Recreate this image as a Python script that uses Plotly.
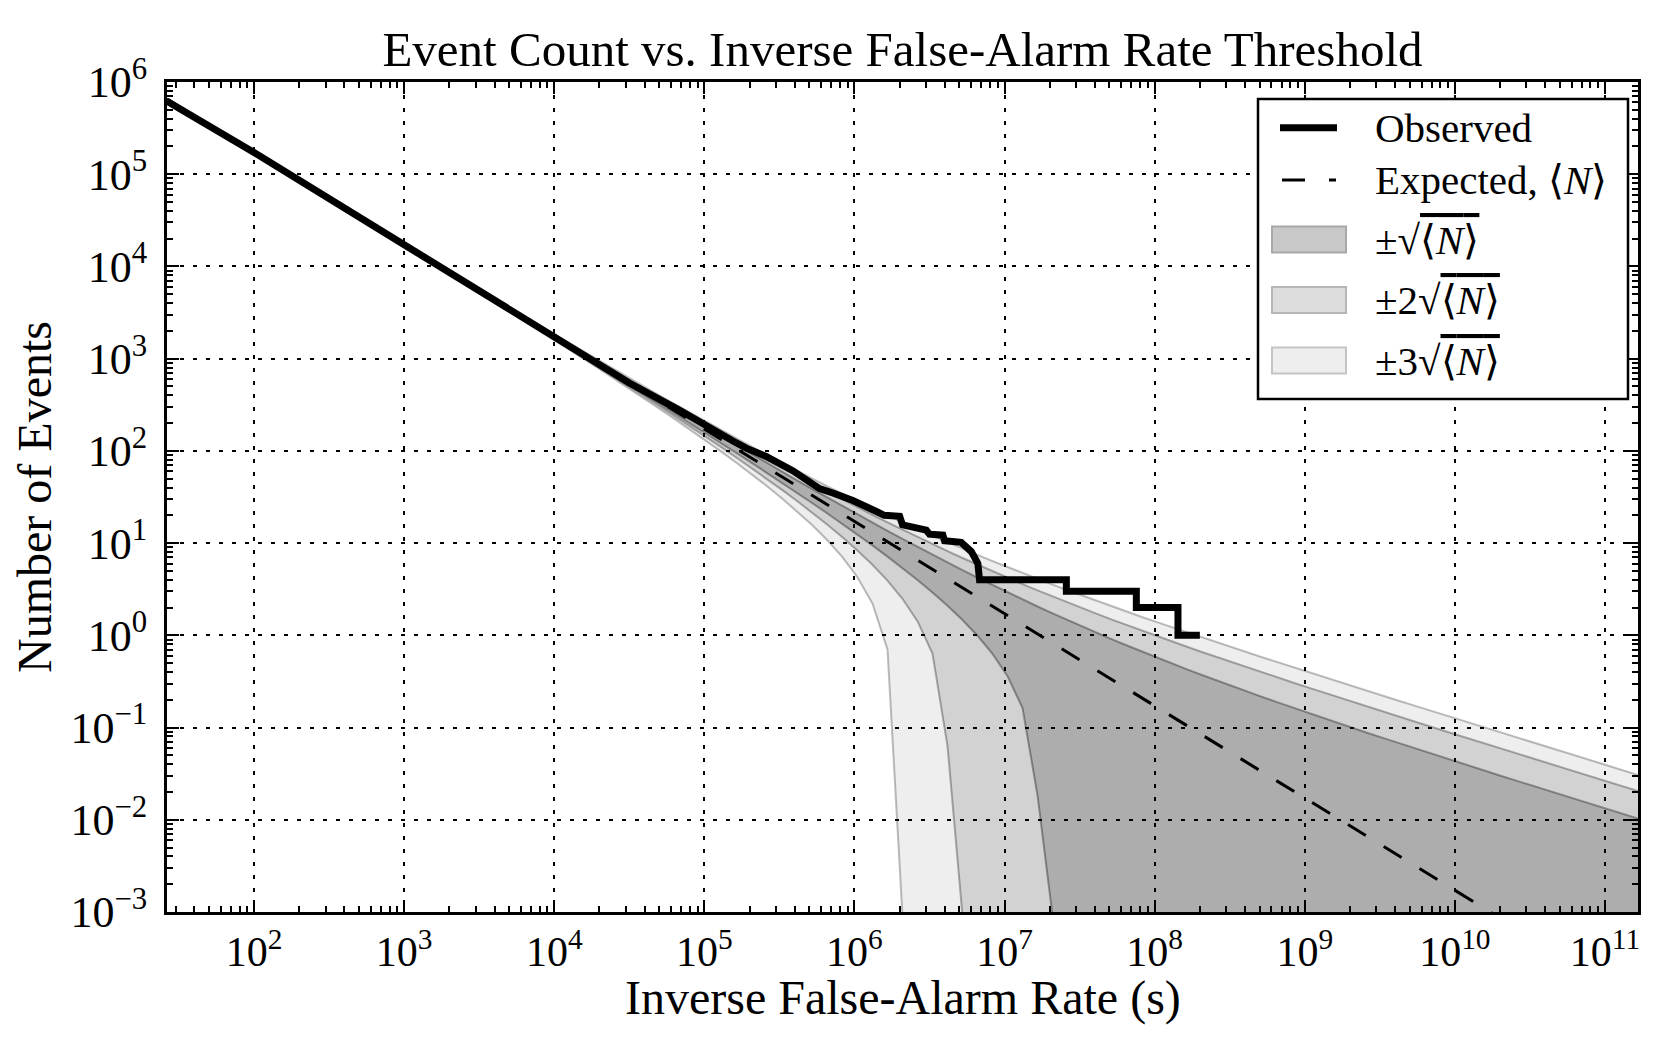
import numpy as np
import plotly.graph_objects as go

FONT = "Liberation Serif"

# ---------------- data ----------------
# sampling grid of the inverse false-alarm rate threshold (s), 0.1-decade steps
ifar_grid = [
    26.3, 33.1, 41.7, 52.5, 66.1, 83.2,
    104.7, 131.8, 166.0, 208.9, 263.0, 331.1, 416.9, 524.8, 660.7, 831.8,
    1047, 1318, 1660, 2089, 2630, 3311, 4169, 5248, 6607, 8318,
    1.047e4, 1.318e4, 1.660e4, 2.089e4, 2.630e4, 3.311e4, 4.169e4, 5.248e4, 6.607e4, 8.318e4,
    1.047e5, 1.318e5, 1.660e5, 2.089e5, 2.630e5, 3.311e5, 4.169e5, 5.248e5, 6.607e5, 8.318e5,
    1.047e6, 1.318e6, 1.660e6, 2.089e6, 2.630e6, 3.311e6, 4.169e6, 5.248e6, 6.607e6, 8.318e6,
    1.047e7, 1.318e7, 1.660e7, 2.089e7, 2.630e7, 3.311e7, 4.169e7, 5.248e7, 6.607e7, 8.318e7,
    1.047e8, 1.318e8, 1.660e8, 2.089e8, 2.630e8, 3.311e8, 4.169e8, 5.248e8, 6.607e8, 8.318e8,
    1.047e9, 1.318e9, 1.660e9, 2.089e9, 2.630e9, 3.311e9, 4.169e9, 5.248e9, 6.607e9, 8.318e9,
    1.047e10, 1.318e10, 1.660e10, 2.089e10, 2.630e10, 3.311e10, 4.169e10, 5.248e10, 6.607e10, 8.318e10,
    1.047e11, 1.318e11, 1.660e11,
]

# expected number of events <N> at each grid point
expected_count = [
    6.538e5, 5.193e5, 4.125e5, 3.277e5, 2.603e5, 2.068e5,
    1.643e5, 1.305e5, 1.036e5, 8.231e4, 6.538e4, 5.193e4, 4.125e4, 3.277e4, 2.603e4, 2.068e4,
    1.643e4, 1.305e4, 1.036e4, 8231, 6538, 5193, 4125, 3277, 2603, 2068,
    1643, 1305, 1036, 823.1, 653.8, 519.3, 412.5, 327.7, 260.3, 206.8,
    164.3, 130.5, 103.6, 82.31, 65.38, 51.93, 41.25, 32.77, 26.03, 20.68,
    16.43, 13.05, 10.36, 8.231, 6.538, 5.193, 4.125, 3.277, 2.603, 2.068,
    1.643, 1.305, 1.036, 0.8231, 0.6538, 0.5193, 0.4125, 0.3277, 0.2603, 0.2068,
    0.1643, 0.1305, 0.1036, 0.08231, 0.06538, 0.05193, 0.04125, 0.03277, 0.02603, 0.02068,
    0.01643, 0.01305, 0.01036, 0.008231, 0.006538, 0.005193, 0.004125, 0.003277, 0.002603, 0.002068,
    1.643e-3, 1.305e-3, 1.036e-3, 8.231e-4, 6.538e-4, 5.193e-4, 4.125e-4, 3.277e-4, 2.603e-4, 2.068e-4,
    1.643e-4, 1.305e-4, 1.036e-4,
]

# observed cumulative count of events above each threshold
obs_ifar = [
    26.3, 100, 1000, 1.0e4, 1.47e4, 3.16e4, 6.81e4, 1.0e5, 1.55e5, 1.90e5,
    2.58e5, 3.88e5, 5.01e5, 5.85e5, 7.18e5, 9.75e5, 1.40e6, 1.58e6, 2.0e6, 2.09e6,
    3.01e6, 3.16e6, 3.88e6, 3.98e6, 5.14e6, 6.0e6, 6.31e6, 6.64e6, 6.81e6, 2.58e7,
    2.58e7, 7.55e7, 7.55e7, 1.43e8, 1.43e8, 2.0e8,
]
obs_count = [
    6.2e5, 1.72e5, 1.72e4, 1750, 1190, 545, 277, 190, 128, 107,
    87, 61, 47, 39, 35, 29, 22, 20, 19.5, 15.8,
    13.8, 12.5, 12.2, 10.6, 10.2, 8.1, 7, 6, 4, 4,
    3, 3, 2, 2, 1, 1,
]

band_sigmas = [3, 2, 1]
band_labels = {
    1: "±√<span style='text-decoration:overline'>⟨<i>N</i>⟩</span>",
    2: "±2√<span style='text-decoration:overline'>⟨<i>N</i>⟩</span>",
    3: "±3√<span style='text-decoration:overline'>⟨<i>N</i>⟩</span>",
}
x_tick_exponents = list(range(2, 12))
y_tick_exponents = list(range(-3, 7))

# ---------------- styles ----------------
band_fill = {3: "rgba(0,0,0,0.067)", 2: "rgba(0,0,0,0.118)", 1: "rgba(0,0,0,0.176)"}
band_edge = {3: "rgba(0,0,0,0.26)", 2: "rgba(0,0,0,0.30)", 1: "rgba(0,0,0,0.34)"}
legend_patch_fill = {1: "#c8c8c8", 2: "#dcdcdc", 3: "#eeeeee"}
legend_patch_edge = {1: "#a8a8a8", 2: "#b6b6b6", 3: "#c4c4c4"}
axis_floor = 9e-4

fig = go.Figure()

exp_arr = np.array(expected_count)
root = np.sqrt(exp_arr)
for k in band_sigmas:
    lower = np.maximum(exp_arr - k * root, axis_floor)
    upper = exp_arr + k * root
    fig.add_trace(go.Scatter(x=ifar_grid, y=lower, mode="lines",
                             line=dict(color=band_edge[k], width=2),
                             showlegend=False, hoverinfo="skip"))
    fig.add_trace(go.Scatter(x=ifar_grid, y=upper, mode="lines", fill="tonexty",
                             fillcolor=band_fill[k],
                             line=dict(color=band_edge[k], width=2),
                             showlegend=False, hoverinfo="skip"))

fig.add_trace(go.Scatter(x=ifar_grid, y=expected_count, mode="lines",
                         line=dict(color="black", width=3, dash="21px,21px"),
                         showlegend=False, name="Expected"))
fig.add_trace(go.Scatter(x=obs_ifar, y=obs_count, mode="lines",
                         line=dict(color="black", width=7),
                         showlegend=False, name="Observed"))

label_font = dict(family=FONT, size=48, color="black")
axis_common = dict(
    type="log", showline=True, linecolor="black", linewidth=3, mirror="ticks",
    ticks="inside", ticklen=12, tickwidth=1.5, tickcolor="black",
    showgrid=True, gridcolor="black", gridwidth=1.5, griddash="4px,9px",
    minor=dict(ticks="inside", ticklen=6, tickwidth=1.5, tickcolor="black",
               dtick="D1", showgrid=False),
    zeroline=False, layer="above traces", automargin=False,
)

fig.update_xaxes(
    **axis_common,
    range=[np.log10(ifar_grid[0]), np.log10(ifar_grid[-1])],
    tickmode="array",
    tickvals=[10.0 ** e for e in x_tick_exponents],
    ticktext=[f"10<sup>{e}</sup>" for e in x_tick_exponents],
    tickfont=dict(family=FONT, size=42, color="black"),
    ticklabelstandoff=1,
)
fig.update_yaxes(
    **axis_common,
    range=[y_tick_exponents[0], y_tick_exponents[-1]],
    tickmode="array",
    tickvals=[10.0 ** e for e in y_tick_exponents],
    ticktext=[f"10<sup>{str(e).replace('-', '−')}</sup>" for e in y_tick_exponents],
    tickfont=dict(family=FONT, size=44, color="black"),
    ticklabelstandoff=8,
    title=dict(text="Number of Events", font=label_font, standoff=12),
)

# screen geometry (page body adds an 8 px offset)
OFF = 8
W, H = 1663, 1022
PL, PR, PT, PB = 167, 1638, 82, 912
ML, MT = PL - OFF, PT - OFF
MR, MB = (OFF + W) - PR, (OFF + H) - PB
PW, PH = PR - PL, PB - PT


def px(xs):
    return (xs - PL) / PW


def py(ys):
    return (PB - ys) / PH


shapes = []
annotations = []
# x-axis title
annotations.append(dict(text="Inverse False-Alarm Rate (s)", xref="paper", yref="paper",
                        x=0.5, y=py(969), xanchor="center", yanchor="top",
                        showarrow=False, font=label_font))
# legend frame
shapes.append(dict(type="rect", xref="paper", yref="paper",
                   x0=px(1258), x1=px(1628), y0=py(399), y1=py(99),
                   fillcolor="white", line=dict(color="black", width=2.5), layer="above"))
# Observed sample
shapes.append(dict(type="line", xref="paper", yref="paper",
                   x0=px(1280), x1=px(1337), y0=py(127.7), y1=py(127.7),
                   line=dict(color="black", width=7), layer="above"))
# Expected sample
shapes.append(dict(type="line", xref="paper", yref="paper",
                   x0=px(1282), x1=px(1336), y0=py(180), y1=py(180),
                   line=dict(color="black", width=3, dash="23px,24px"), layer="above"))
row_y = {1: 239.5, 2: 300, 3: 360.5}
for k in [1, 2, 3]:
    shapes.append(dict(type="rect", xref="paper", yref="paper",
                       x0=px(1272), x1=px(1346), y0=py(row_y[k] + 13), y1=py(row_y[k] - 13),
                       fillcolor=legend_patch_fill[k],
                       line=dict(color=legend_patch_edge[k], width=2), layer="above"))

legend_rows = [("Observed", 127.7), ("Expected, ⟨<i>N</i>⟩", 180)] + \
    [(band_labels[k], row_y[k]) for k in [1, 2, 3]]
for text, yy in legend_rows:
    annotations.append(dict(text=text, xref="paper", yref="paper", x=px(1373), y=py(yy),
                            xanchor="left", yanchor="middle", showarrow=False,
                            font=dict(family=FONT, size=41, color="black")))

fig.update_layout(
    width=W, height=H,
    margin=dict(l=ML, r=MR, t=MT, b=MB, autoexpand=False),
    paper_bgcolor="white", plot_bgcolor="white",
    showlegend=False,
    title=dict(text="Event Count vs. Inverse False-Alarm Rate Threshold",
               x=0.5, xref="paper", xanchor="center",
               y=1 - (49 - OFF) / H, yref="container", yanchor="middle",
               font=dict(family=FONT, size=49, color="black")),
    shapes=shapes,
    annotations=annotations,
)

fig.write_html("out.html")
